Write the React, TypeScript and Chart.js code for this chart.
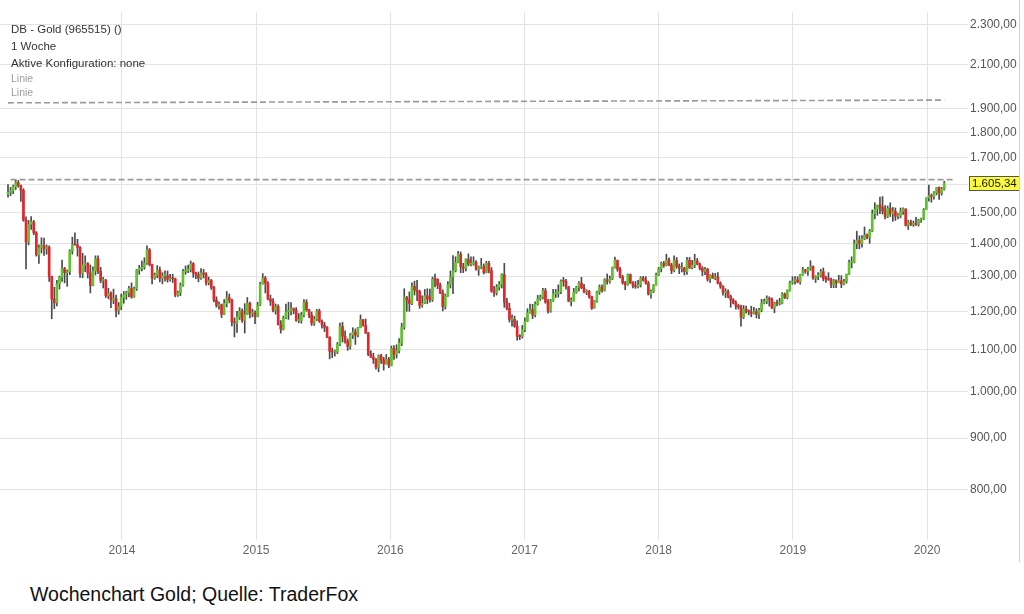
import React, { useEffect, useRef } from "react";
import { Chart, registerables } from "chart.js";

Chart.register(...registerables);

// Weekly candles, first week starting Monday 2013-02-25; open = previous close
const FIRST_WEEK = "2013-02-25";
const FIRST_OPEN = 1565;

const CLOSE_2013 = [1572,1577,1592,1607,1596,1579,1476,1405,1462,1470,1434,1364,1386,1393,1383,1388,1298,1234,1223,1277,1296,1322,1310,1313,1376,1396,1395,1387,1308,1333,1338,1309,1272,1315,1352,1314,1287,1288,1243,1250,1231,1235,1202,1213];
const HIGH_2013 = [1600,1590,1598,1616,1615,1598,1585,1487,1475,1488,1475,1438,1395,1418,1417,1395,1392,1300,1267,1287,1300,1348,1326,1318,1380,1420,1434,1413,1390,1369,1361,1340,1333,1327,1361,1361,1326,1296,1290,1264,1254,1262,1245,1224];
const LOW_2013 = [1555,1560,1567,1582,1590,1540,1472,1321,1395,1445,1428,1360,1338,1370,1362,1366,1284,1180,1207,1215,1262,1284,1280,1270,1304,1366,1394,1360,1296,1295,1313,1294,1251,1271,1303,1307,1280,1265,1238,1235,1210,1221,1185,1192];

const CLOSE_2014 = [1238,1247,1252,1264,1240,1263,1318,1323,1326,1339,1379,1334,1294,1303,1318,1293,1301,1301,1290,1293,1292,1245,1252,1274,1314,1316,1320,1337,1309,1304,1294,1309,1305,1280,1287,1267,1231,1216,1218,1192,1222,1238,1231,1171,1169,1185,1201,1175,1191,1222,1195,1195];
const HIGH_2014 = [1248,1255,1256,1270,1280,1268,1320,1332,1345,1355,1392,1384,1336,1309,1331,1327,1310,1315,1315,1305,1305,1294,1256,1280,1320,1330,1333,1345,1340,1312,1312,1322,1320,1310,1297,1290,1270,1240,1226,1220,1232,1255,1248,1234,1182,1200,1210,1207,1221,1238,1225,1206];
const LOW_2014 = [1204,1222,1233,1240,1236,1238,1258,1305,1315,1320,1335,1330,1277,1290,1295,1283,1277,1285,1282,1285,1281,1240,1241,1243,1270,1305,1310,1312,1296,1292,1283,1290,1294,1273,1274,1261,1226,1211,1206,1183,1191,1212,1223,1161,1132,1144,1178,1170,1142,1191,1182,1185];

const CLOSE_2015 = [1186,1217,1277,1294,1279,1234,1227,1203,1213,1164,1152,1182,1199,1201,1207,1203,1175,1175,1189,1225,1204,1190,1168,1179,1201,1173,1163,1157,1131,1096,1094,1094,1113,1159,1134,1121,1108,1137,1145,1137,1156,1177,1162,1142,1088,1081,1076,1057,1085,1075,1065,1076];
const HIGH_2015 = [1201,1225,1282,1307,1299,1284,1245,1235,1220,1218,1175,1187,1220,1225,1224,1209,1210,1194,1197,1232,1232,1205,1198,1186,1205,1206,1177,1170,1159,1133,1104,1099,1118,1168,1170,1148,1127,1141,1156,1153,1157,1190,1178,1179,1144,1097,1091,1078,1087,1088,1081,1088];
const LOW_2015 = [1167,1185,1215,1276,1251,1231,1216,1198,1192,1163,1142,1150,1180,1178,1190,1193,1173,1169,1168,1185,1200,1183,1162,1162,1175,1170,1155,1146,1130,1077,1080,1084,1090,1110,1119,1116,1098,1101,1128,1113,1132,1156,1160,1141,1085,1081,1066,1052,1046,1066,1050,1064];

const CLOSE_2016 = [1061,1103,1088,1097,1117,1157,1239,1231,1221,1270,1259,1255,1216,1222,1243,1234,1232,1291,1290,1273,1252,1213,1243,1275,1298,1316,1340,1366,1328,1323,1350,1335,1335,1341,1320,1327,1328,1310,1338,1316,1257,1251,1267,1276,1304,1225,1208,1178,1178,1160,1134,1133,1151];
const HIGH_2016 = [1081,1109,1110,1112,1128,1168,1263,1241,1254,1280,1285,1287,1259,1243,1261,1263,1262,1297,1306,1292,1279,1260,1248,1284,1315,1362,1358,1375,1373,1338,1352,1367,1358,1358,1346,1330,1353,1336,1344,1344,1325,1270,1275,1284,1307,1338,1236,1222,1190,1187,1174,1138,1162];
const LOW_2016 = [1056,1060,1076,1079,1092,1110,1152,1200,1200,1218,1245,1229,1208,1211,1221,1221,1225,1227,1268,1263,1249,1201,1206,1241,1265,1249,1312,1339,1310,1310,1315,1330,1330,1332,1317,1302,1322,1306,1309,1309,1253,1241,1245,1259,1265,1211,1204,1171,1160,1157,1124,1125,1129];

const CLOSE_2017 = [1173,1196,1205,1190,1220,1234,1239,1257,1226,1201,1229,1249,1249,1254,1285,1284,1268,1228,1228,1253,1267,1279,1266,1254,1256,1241,1209,1228,1254,1268,1258,1289,1284,1291,1325,1347,1320,1297,1280,1274,1304,1280,1272,1269,1274,1294,1288,1279,1248,1256,1274,1303];
const HIGH_2017 = [1182,1207,1220,1219,1226,1244,1245,1264,1264,1233,1233,1261,1261,1274,1289,1296,1290,1270,1237,1264,1270,1284,1296,1276,1260,1258,1242,1230,1256,1274,1274,1292,1306,1300,1327,1357,1348,1326,1302,1284,1306,1306,1284,1284,1287,1298,1299,1298,1284,1260,1275,1309];
const LOW_2017 = [1146,1172,1195,1180,1185,1217,1230,1234,1222,1195,1197,1227,1238,1239,1249,1270,1262,1226,1215,1228,1250,1257,1263,1251,1246,1236,1205,1208,1225,1247,1253,1256,1276,1279,1289,1323,1314,1294,1276,1260,1273,1278,1265,1264,1265,1268,1285,1276,1245,1236,1252,1273];

const CLOSE_2018 = [1322,1338,1332,1349,1333,1316,1347,1329,1323,1324,1313,1347,1325,1332,1345,1336,1323,1314,1320,1291,1302,1294,1298,1279,1270,1252,1255,1241,1231,1223,1214,1212,1184,1206,1201,1198,1194,1199,1192,1203,1222,1227,1235,1233,1209,1223,1222,1222,1248,1238,1257,1281];
const HIGH_2018 = [1326,1342,1344,1366,1355,1338,1361,1356,1336,1340,1326,1356,1356,1347,1366,1353,1339,1328,1326,1323,1304,1309,1308,1310,1283,1272,1263,1260,1245,1235,1229,1219,1217,1216,1214,1204,1214,1211,1207,1208,1233,1234,1243,1240,1237,1225,1231,1236,1252,1251,1260,1285];
const LOW_2018 = [1301,1312,1326,1330,1331,1307,1312,1323,1307,1312,1303,1305,1322,1321,1325,1333,1318,1301,1304,1285,1281,1293,1289,1277,1264,1245,1238,1237,1211,1220,1206,1206,1160,1180,1195,1190,1185,1192,1182,1180,1199,1220,1221,1214,1207,1196,1215,1217,1220,1235,1234,1256];

const CLOSE_2019 = [1285,1289,1282,1304,1318,1314,1322,1328,1294,1299,1302,1313,1292,1291,1290,1275,1286,1280,1286,1277,1284,1305,1341,1341,1399,1409,1399,1415,1426,1419,1440,1497,1513,1527,1520,1507,1488,1516,1497,1505,1489,1490,1505,1514,1459,1468,1462,1464,1460,1476,1479,1511];
const HIGH_2019 = [1298,1298,1298,1305,1326,1320,1326,1346,1330,1301,1310,1320,1324,1300,1310,1294,1290,1289,1302,1301,1290,1306,1348,1358,1411,1439,1424,1425,1453,1431,1445,1510,1535,1527,1555,1557,1525,1524,1535,1519,1517,1498,1517,1518,1514,1475,1476,1473,1485,1479,1483,1515];
const LOW_2019 = [1276,1276,1280,1276,1302,1308,1302,1317,1290,1281,1289,1297,1286,1281,1287,1266,1266,1266,1280,1266,1274,1279,1304,1324,1339,1383,1383,1388,1412,1414,1400,1437,1480,1492,1498,1496,1480,1484,1488,1472,1475,1480,1483,1495,1456,1445,1457,1455,1458,1456,1468,1477];

const CLOSE_2020 = [1552,1560,1557,1571,1589,1570,1584,1605.34];
const HIGH_2020 = [1553,1598,1566,1575,1590,1592,1590,1612];
const LOW_2020 = [1511,1541,1537,1548,1563,1547,1562,1580];

// Axis ticks and annotation lines
const YEAR_TICKS = [2014, 2015, 2016, 2017, 2018, 2019, 2020];
const PRICE_TICKS = [800, 900, 1000, 1100, 1200, 1300, 1400, 1500, 1600, 1700, 1800, 1900, 2100, 2300];
const LINE_TOP = [{ date: "2013-02-25", price: 1926 }, { date: "2020-02-17", price: 1938 }];
const LINE_MID = [{ date: "2013-03-04", price: 1618 }, { date: "2020-03-18", price: 1618 }];

const CLOSES = [...CLOSE_2013, ...CLOSE_2014, ...CLOSE_2015, ...CLOSE_2016, ...CLOSE_2017, ...CLOSE_2018, ...CLOSE_2019, ...CLOSE_2020];
const HIGHS = [...HIGH_2013, ...HIGH_2014, ...HIGH_2015, ...HIGH_2016, ...HIGH_2017, ...HIGH_2018, ...HIGH_2019, ...HIGH_2020];
const LOWS = [...LOW_2013, ...LOW_2014, ...LOW_2015, ...LOW_2016, ...LOW_2017, ...LOW_2018, ...LOW_2019, ...LOW_2020];

const UP = "#62c22e";
const DOWN = "#e3262b";
const WICK = "#4a4a4a";
const GRID = "#e3e3e6";
const FONT = '"Liberation Sans", Arial, Helvetica, sans-serif';

function decimalYear(ms: number): number {
  const d = new Date(ms);
  const y = d.getUTCFullYear();
  const s = Date.UTC(y, 0, 1);
  const e = Date.UTC(y + 1, 0, 1);
  return y + (ms - s) / (e - s);
}
function dateYear(iso: string): number {
  return decimalYear(Date.parse(iso + "T00:00:00Z"));
}
function fmtDE(v: number): string {
  const [i, d] = v.toFixed(2).split(".");
  return i.replace(/\B(?=(\d{3})+(?!\d))/g, ".") + "," + d;
}

const priceTag = {
  id: "priceTag",
  afterDraw(chart: any) {
    const last = CLOSES[CLOSES.length - 1];
    const y = chart.scales.y.getPixelForValue(last);
    const ctx = chart.ctx;
    ctx.save();
    const top = Math.round(y - 7) + 0.5;
    ctx.fillStyle = "#fbfb3c";
    ctx.fillRect(969.5, top, 50, 14);
    ctx.strokeStyle = "#555";
    ctx.lineWidth = 1;
    ctx.strokeRect(969.5, top, 50, 14);
    ctx.fillStyle = "#111";
    ctx.font = `11.5px ${FONT}`;
    ctx.textAlign = "left";
    ctx.textBaseline = "middle";
    ctx.fillText(fmtDE(last), 972, top + 7.5);
    ctx.restore();
  },
};

export default function App() {
  const ref = useRef<HTMLCanvasElement | null>(null);

  useEffect(() => {
    if (!ref.current) return;
    const start = Date.parse(FIRST_WEEK + "T00:00:00Z");
    const week = 7 * 86400000;
    const bodies: any[] = [];
    const wicks: any[] = [];
    const colors: string[] = [];
    CLOSES.forEach((c, i) => {
      const o = i === 0 ? FIRST_OPEN : CLOSES[i - 1];
      const x = decimalYear(start + i * week);
      bodies.push({ x, y: [o, c] });
      wicks.push({ x, y: [Math.min(LOWS[i], o, c), Math.max(HIGHS[i], o, c)] });
      colors.push(c >= o ? UP : DOWN);
    });

    const chart = new Chart(ref.current, {
      type: "bar",
      data: {
        datasets: [
          {
            type: "line",
            data: LINE_TOP.map((p) => ({ x: dateYear(p.date), y: p.price })),
            borderColor: "#9a9a9a",
            borderWidth: 1.6,
            borderDash: [6, 3],
            pointRadius: 0,
            order: 0,
          } as any,
          {
            type: "line",
            data: LINE_MID.map((p) => ({ x: dateYear(p.date), y: p.price })),
            borderColor: "#9a9a9a",
            borderWidth: 1.6,
            borderDash: [6, 3],
            pointRadius: 0,
            order: 0,
          } as any,
          {
            data: wicks,
            backgroundColor: WICK,
            grouped: false,
            barPercentage: 1,
            categoryPercentage: 1,
            maxBarThickness: 1,
            order: 2,
          } as any,
          {
            data: bodies,
            backgroundColor: colors,
            grouped: false,
            barPercentage: 1,
            categoryPercentage: 1,
            maxBarThickness: 2,
            minBarLength: 1,
            order: 1,
          } as any,
        ],
      },
      options: {
        responsive: false,
        animation: false,
        events: [],
        layout: { padding: { top: 12, left: 0, right: 0, bottom: 0 } },
        plugins: { legend: { display: false }, tooltip: { enabled: false } },
        scales: {
          x: {
            type: "linear",
            min: 2013.091,
            max: 2020.231,
            offset: false,
            bounds: "data",
            afterBuildTicks: (s: any) => {
              s.ticks = YEAR_TICKS.map((v) => ({ value: v }));
            },
            afterFit: (s: any) => {
              s.height = 30;
            },
            border: { display: false },
            grid: { color: GRID, drawTicks: false, lineWidth: 1, offset: false },
            ticks: {
              color: "#666",
              font: { family: FONT, size: 12 },
              padding: 3,
              maxRotation: 0,
              autoSkip: false,
              callback: (v: any) => String(Math.round(Number(v))),
            },
          },
          y: {
            type: "logarithmic",
            position: "right",
            min: 714,
            max: 2367,
            afterBuildTicks: (s: any) => {
              s.ticks = PRICE_TICKS.map((v) => ({ value: v }));
            },
            afterFit: (s: any) => {
              s.width = 66;
            },
            border: { display: false },
            grid: { color: GRID, drawTicks: true, tickLength: 10, lineWidth: 1 },
            ticks: {
              color: "#555",
              font: { family: FONT, size: 12 },
              padding: 2,
              autoSkip: false,
              callback: (v: any) => (Number(v) === 1600 ? "" : fmtDE(Number(v))),
            },
          },
        },
      } as any,
      plugins: [priceTag],
    });
    return () => chart.destroy();
  }, []);

  const dark: React.CSSProperties = { position: "absolute", left: 11, fontSize: 11.5, color: "#333", lineHeight: "13px", whiteSpace: "nowrap" };
  const light: React.CSSProperties = { position: "absolute", left: 11, fontSize: 10.5, color: "#9d9d9d", lineHeight: "12px", whiteSpace: "nowrap" };

  return (
    <div style={{ position: "absolute", left: 0, top: 0, width: 1024, height: 614, background: "#fff", fontFamily: FONT, overflow: "hidden" }}>
      <canvas ref={ref} width={1024} height={570} style={{ position: "absolute", left: 0, top: 0, width: 1024, height: 570 }} />
      <div style={{ ...dark, top: 23 }}>DB - Gold (965515) ()</div>
      <div style={{ ...dark, top: 40 }}>1 Woche</div>
      <div style={{ ...dark, top: 57 }}>Aktive Konfiguration: none</div>
      <div style={{ ...light, top: 72 }}>Linie</div>
      <div style={{ ...light, top: 86 }}>Linie</div>
      <div style={{ position: "absolute", left: 1019, top: 0, width: 1, height: 562, background: "#cfcfcf" }} />
      <div style={{ position: "absolute", left: 30, top: 582, fontSize: 19.5, color: "#111", lineHeight: "24px", whiteSpace: "nowrap" }}>
        Wochenchart Gold; Quelle: TraderFox
      </div>
    </div>
  );
}
